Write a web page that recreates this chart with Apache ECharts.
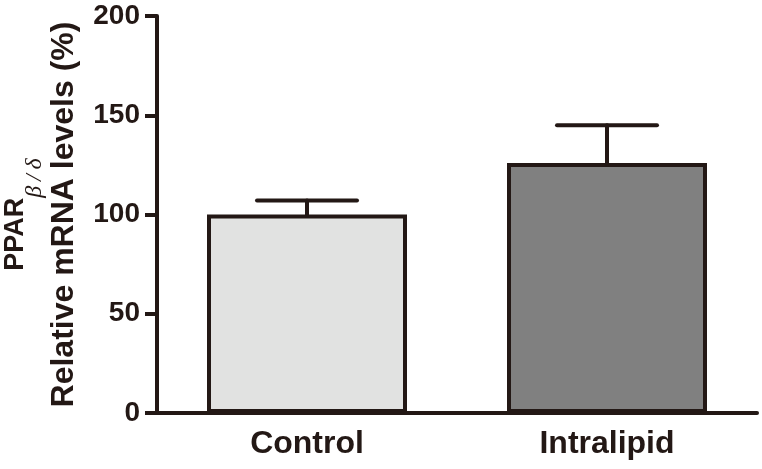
<!DOCTYPE html>
<html>
<head>
<meta charset="utf-8">
<script src="https://cdn.jsdelivr.net/npm/echarts@6/dist/echarts.min.js"></script>
<style>
  html, body { margin: 0; padding: 0; background: #fff; }
  #chart { width: 762px; height: 469px; }
</style>
</head>
<body>
<div id="chart"></div>
<script>
const categories = ['Control', 'Intralipid'];
const means = [100, 126];
const errUpper = [107, 145];
const barColors = ['#e1e2e1', '#808080'];
const yTicks = [0, 50, 100, 150, 200];

const ink = '#231815';
const chart = echarts.init(document.getElementById('chart'));

const option = {
  animation: false,
  grid: { left: 157, right: 5, top: 16, bottom: 56, outerBoundsMode: 'none' },
  xAxis: {
    type: 'category',
    data: categories,
    axisLine: { lineStyle: { color: ink, width: 4 } },
    axisTick: { alignWithLabel: true, length: 9, lineStyle: { color: ink, width: 4 } },
    axisLabel: {
      color: ink, fontSize: 32, fontWeight: 'bold',
      fontFamily: 'Liberation Sans, Arial, sans-serif', margin: 15
    }
  },
  yAxis: {
    type: 'value',
    min: yTicks[0],
    max: yTicks[yTicks.length - 1],
    interval: 50,
    splitLine: { show: false },
    axisLine: { show: true, lineStyle: { color: ink, width: 4 } },
    axisTick: { show: true, length: 12, lineStyle: { color: ink, width: 4 } },
    axisLabel: {
      color: ink, fontSize: 28, fontWeight: 'bold',
      fontFamily: 'Liberation Sans, Arial, sans-serif', margin: 17
    },
    name: '{p|PPAR}{s|β\u2009/\u2009δ}\n{r|Relative mRNA levels (%)}',
    nameLocation: 'middle',
    nameRotate: 90,
    nameGap: 76,
    nameTextStyle: {
      color: ink,
      align: 'center',
      rich: {
        p: {
          fontSize: 27, fontWeight: 'bold', color: ink,
          fontFamily: 'Liberation Sans, Arial, sans-serif',
          lineHeight: 45, verticalAlign: 'top'
        },
        s: {
          fontSize: 24, fontStyle: 'italic', color: ink,
          fontFamily: 'Liberation Serif, serif',
          lineHeight: 45, verticalAlign: 'bottom'
        },
        r: {
          fontSize: 32, fontWeight: 'bold', color: ink,
          fontFamily: 'Liberation Sans, Arial, sans-serif',
          lineHeight: 34
        }
      }
    }
  },
  series: [
    {
      type: 'bar',
      barWidth: 200,
      data: means.map((v, i) => ({
        value: v,
        itemStyle: { color: barColors[i], borderColor: ink, borderWidth: 4 }
      })),
      z: 2
    },
    {
      type: 'custom',
      z: 3,
      data: means.map((v, i) => [i, v, errUpper[i]]),
      renderItem: function (params, api) {
        const base = api.coord([api.value(0), api.value(1)]);
        const top = api.coord([api.value(0), api.value(2)]);
        const half = 50;
        const style = { stroke: ink, lineWidth: 4, lineCap: 'round' };
        return {
          type: 'group',
          children: [
            { type: 'line', shape: { x1: base[0], y1: base[1], x2: top[0], y2: top[1] }, style: style },
            { type: 'line', shape: { x1: top[0] - half, y1: top[1], x2: top[0] + half, y2: top[1] }, style: style }
          ]
        };
      }
    }
  ]
};

chart.setOption(option);
</script>
</body>
</html>
